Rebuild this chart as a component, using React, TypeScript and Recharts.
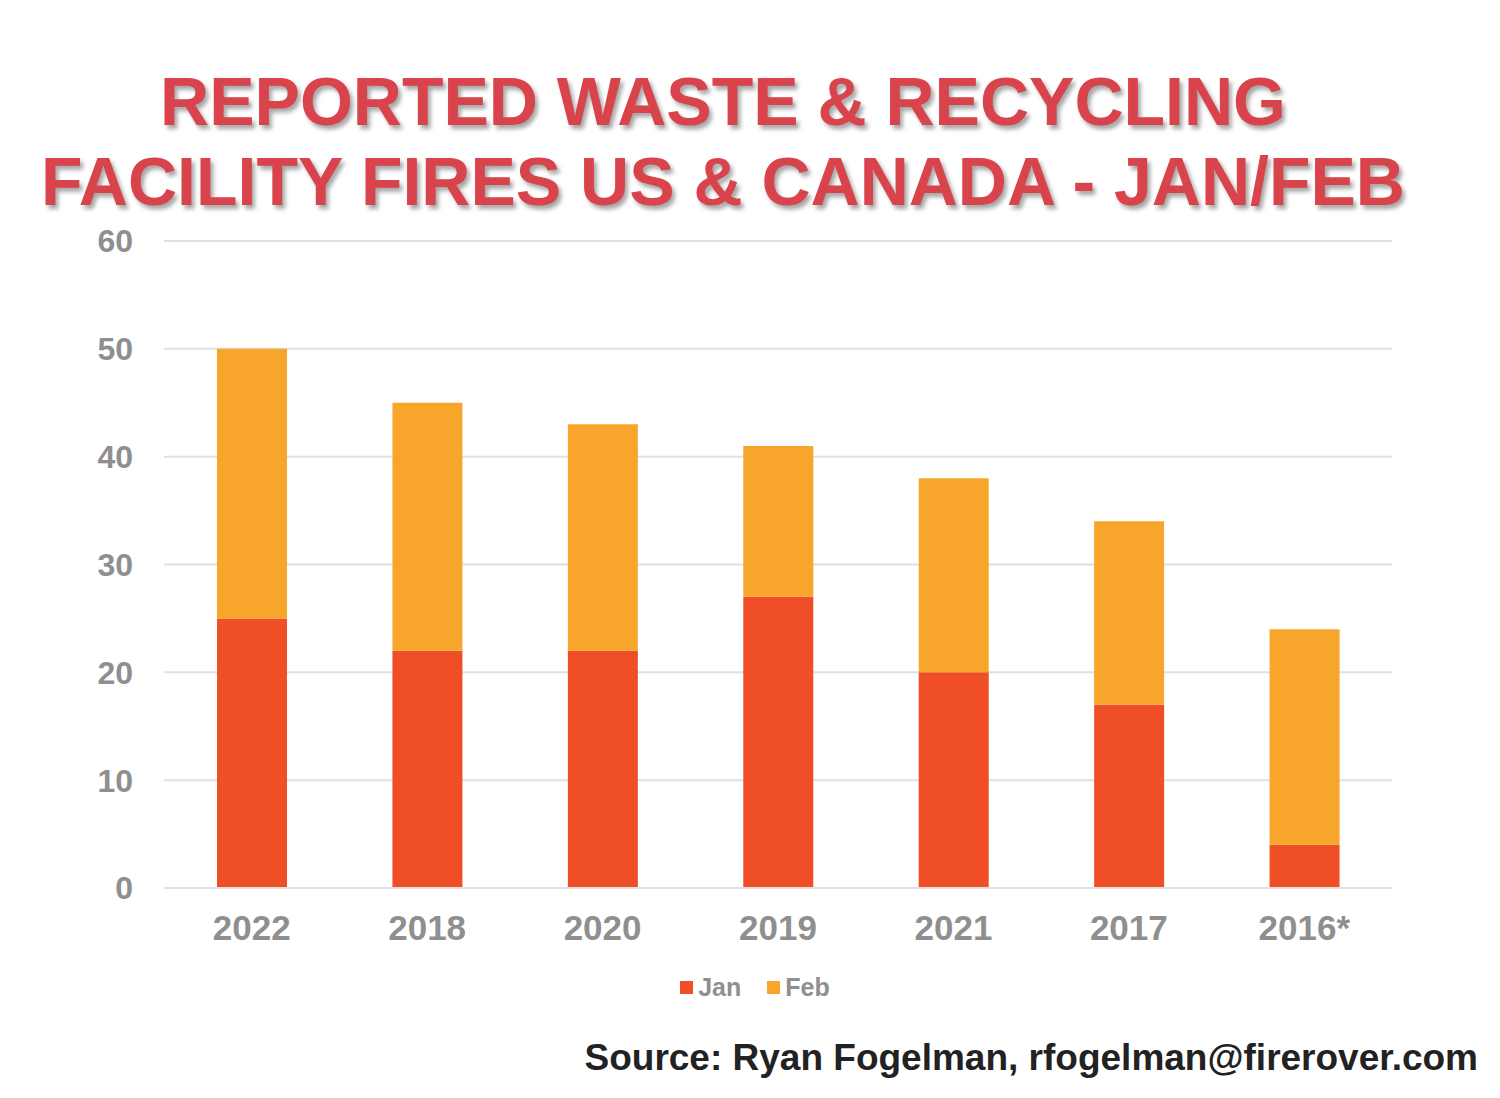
import { BarChart, Bar, XAxis, YAxis, CartesianGrid, Legend } from 'recharts'

// Jan/Feb fire counts per year, sorted by total
const years = ['2022', '2018', '2020', '2019', '2021', '2017', '2016*']
const jan = [25, 22, 22, 27, 20, 17, 4]
const feb = [25, 23, 21, 14, 18, 17, 20]
const yTicks = [0, 10, 20, 30, 40, 50, 60]
const seriesOrder = ['Jan', 'Feb']

const JAN_COLOR = '#EF4E27'
const FEB_COLOR = '#F7A62B'
const FONT = '"Liberation Sans", Arial, Helvetica, sans-serif'

const chartData = years.map((year, i) => ({ year, Jan: jan[i], Feb: feb[i] }))

function LegendContent({ payload }: any) {
  const items = [...(payload ?? [])].sort(
    (a: any, b: any) => seriesOrder.indexOf(a.value) - seriesOrder.indexOf(b.value)
  )
  return (
    <div style={{ display: 'flex', justifyContent: 'center', alignItems: 'center', fontFamily: FONT, paddingLeft: 10 }}>
      {items.map((entry: any, i: number) => (
        <div key={entry.value} style={{ display: 'flex', alignItems: 'center', marginLeft: i === 0 ? 0 : 26 }}>
          <span style={{ width: 13, height: 13, background: entry.color, marginRight: 5, display: 'inline-block' }} />
          <span style={{ color: '#8F8F8F', fontWeight: 700, fontSize: 25 }}>{entry.value}</span>
        </div>
      ))}
    </div>
  )
}

export default function App() {
  const titleStyle: React.CSSProperties = {
    position: 'absolute',
    left: 0,
    width: 1446,
    textAlign: 'center',
    fontFamily: FONT,
    fontWeight: 700,
    fontSize: 68,
    color: '#D9434B',
    textShadow: '3px 4px 4px rgba(0,0,0,0.35)',
    lineHeight: '80px',
    whiteSpace: 'nowrap',
  }

  return (
    <div style={{ position: 'absolute', top: 0, left: 0, width: 1500, height: 1098, background: '#fff', overflow: 'hidden' }}>
      <div style={{ ...titleStyle, top: 61 }}>REPORTED WASTE &amp; RECYCLING</div>
      <div style={{ ...titleStyle, top: 141 }}>FACILITY FIRES US &amp; CANADA - JAN/FEB</div>

      <div style={{ position: 'absolute', top: 0, left: 0 }}>
        <BarChart
          width={1500}
          height={1098}
          data={chartData}
          margin={{ top: 241, right: 108, bottom: 121, left: 100 }}
          barSize={70}
        >
          <CartesianGrid vertical={false} stroke="#E0E0E0" strokeWidth={2} />
          <XAxis
            dataKey="year"
            height={60}
            axisLine={{ stroke: '#E0E0E0', strokeWidth: 2 }}
            tickLine={false}
            tickSize={0}
            tickMargin={27}
            tick={{ fill: '#8F8F8F', fontSize: 35, fontWeight: 700, fontFamily: FONT }}
          />
          <YAxis
            width={64}
            domain={[0, 60]}
            ticks={yTicks}
            axisLine={false}
            tickLine={false}
            tickSize={0}
            tickMargin={31}
            tick={{ fill: '#8F8F8F', fontSize: 32, fontWeight: 700, fontFamily: FONT }}
          />
          <Legend
            content={<LegendContent />}
            wrapperStyle={{ top: 973, left: 0, width: 1500 }}
          />
          <Bar dataKey="Jan" stackId="m" fill={JAN_COLOR} isAnimationActive={false} />
          <Bar dataKey="Feb" stackId="m" fill={FEB_COLOR} isAnimationActive={false} />
        </BarChart>
      </div>

      <div
        style={{
          position: 'absolute',
          right: 22,
          top: 1037,
          fontFamily: FONT,
          fontWeight: 700,
          fontSize: 37,
          color: '#222',
          whiteSpace: 'nowrap',
        }}
      >
        Source: Ryan Fogelman, rfogelman@firerover.com
      </div>
    </div>
  )
}
